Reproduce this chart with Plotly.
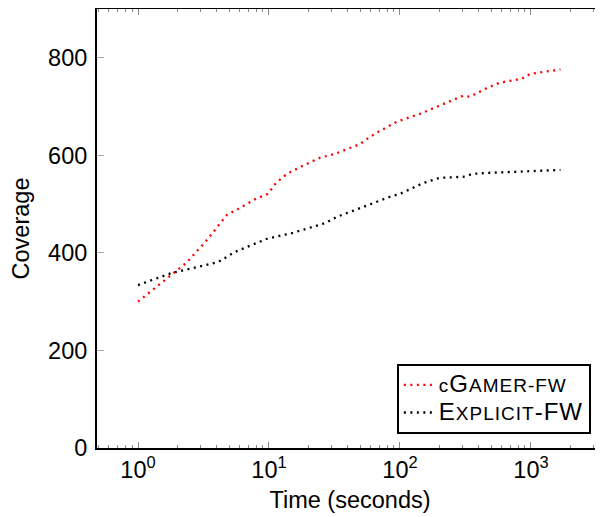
import plotly.graph_objects as go

cgamer_time = [1, 1.98, 2.37, 3.25, 4.08, 4.78, 5.8, 7.96, 9.8, 11.3, 13.7, 17.3, 24.5, 31.9, 49.5, 59, 70.3, 94.8, 142, 228, 303, 342, 461, 580, 853, 982, 1680]
cgamer_cov = [300, 363, 381, 422, 455, 478, 490, 511, 521, 543, 562, 576, 595, 603, 623, 638, 650, 669, 685, 708, 722, 720, 738, 749, 757, 767, 776]

explicit_time = [1, 1.82, 4.08, 5.5, 9.66, 15.2, 26.8, 33, 52.2, 83.9, 100, 150, 202, 303, 360, 461, 1680]
explicit_cov = [334, 359, 381, 402, 429, 441, 461, 474, 494, 515, 521, 543, 554, 556, 562, 564, 570]

x_tickvals = [1, 10, 100, 1000]
x_ticktext = ["10<sup>0</sup>", "10<sup>1</sup>", "10<sup>2</sup>", "10<sup>3</sup>"]
y_tickvals = [0, 200, 400, 600, 800]

minor_vals = [m * 10 ** e for e in range(-1, 4) for m in range(2, 10)]
minor_vals = [v for v in minor_vals if 0.48 < v < 3600]

FAM = "Liberation Sans, Arial, sans-serif"
BIG = "<span style='font-size:24px;letter-spacing:1px'>{}</span>"
SML = "<span style='letter-spacing:1px'>{}</span>"

fig = go.Figure()
fig.add_trace(go.Scatter(
    x=cgamer_time, y=cgamer_cov, mode="lines",
    line=dict(color="#ff0000", width=2.3, dash="2px,4.5px"),
    name=SML.format("c") + BIG.format("G") + SML.format("AMER-FW"),
))
fig.add_trace(go.Scatter(
    x=explicit_time, y=explicit_cov, mode="lines",
    line=dict(color="#000000", width=2.3, dash="2px,4.5px"),
    name=BIG.format("E") + SML.format("XPLICIT") + BIG.format("-FW"),
))

font = dict(family=FAM, size=23.5, color="black")

fig.update_layout(
    width=595, height=509,
    margin=dict(l=89, r=0, t=1, b=69),
    paper_bgcolor="white", plot_bgcolor="white",
    font=font,
    showlegend=True,
    legend=dict(
        x=0.976, y=0.032, xanchor="right", yanchor="bottom",
        bordercolor="black", borderwidth=2, bgcolor="white",
        font=dict(family=FAM, size=19, color="black"),
        tracegroupgap=0, itemwidth=30,
    ),
    xaxis=dict(
        type="log", range=[-0.313, 3.55],
        tickvals=x_tickvals, ticktext=x_ticktext,
        ticks="inside", ticklen=6, tickcolor="#888888", tickwidth=1,
        showline=True, linecolor="black", linewidth=2, mirror="allticks",
        showgrid=False, zeroline=False,
        minor=dict(tickvals=minor_vals, ticks="inside", ticklen=3, tickcolor="#888888", showgrid=False),
        title=dict(text="Time (seconds)", standoff=9, font=font),
        tickfont=font, automargin=False,
    ),
    yaxis=dict(
        range=[0, 900],
        tickvals=y_tickvals,
        ticks="inside", ticklen=7, tickcolor="#aaaaaa", tickwidth=1,
        showline=True, linecolor="black", linewidth=2, mirror="allticks",
        showgrid=False, zeroline=False,
        ticklabelstandoff=3,
        title=dict(text="Coverage", standoff=12, font=font),
        tickfont=font, automargin=False,
    ),
)

fig.write_html("out.html")
